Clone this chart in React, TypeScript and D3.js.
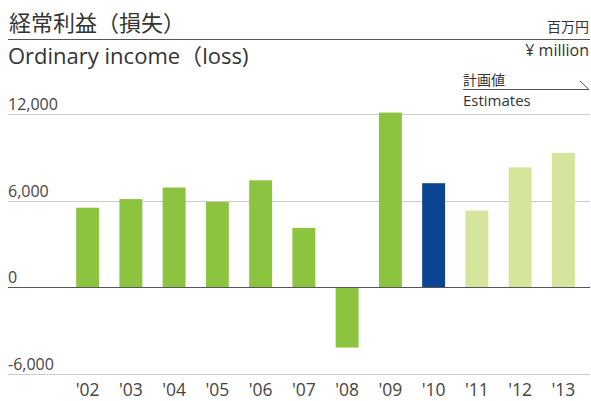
import React from "react";
import * as d3 from "d3";

const years = ["'02", "'03", "'04", "'05", "'06", "'07", "'08", "'09", "'10", "'11", "'12", "'13"];
const values = [5500, 6100, 6900, 5900, 7400, 4100, -4200, 12100, 7200, 5300, 8300, 9300];
const kinds = ["actual", "actual", "actual", "actual", "actual", "actual", "actual", "actual", "current", "estimate", "estimate", "estimate"];
const yTicks = [-6000, 0, 6000, 12000];

const colors: Record<string, string> = {
  actual: "#8cc43f",
  current: "#0b4591",
  estimate: "#d5e59b",
};

const W = 591;
const H = 401;
const FONT = "'Open Sans', 'Noto Sans CJK JP', sans-serif";
const JFONT = "'Noto Sans CJK JP', 'Open Sans', sans-serif";

export default function App() {
  const x = d3.scaleBand<string>().domain(years).range([66, 585]).paddingInner(0.47).paddingOuter(0.235);
  const y = d3.scaleLinear().domain([-6000, 12000]).range([373.5, 114]);
  const base = d3.format(",");
  const fmt = (v: number) => base(v).replace("−", "-");
  return (
    <svg width={W} height={H} style={{ position: "absolute", left: 0, top: 0, background: "#fff" }}>
      {/* titles */}
      <text x={9} y={31} fontFamily={JFONT} fontSize={22} fill="#333">経常利益（損失）</text>
      <line x1={8} x2={590} y1={39.5} y2={39.5} stroke="#555" strokeWidth={1} />
      <text x={8} y={64} fontFamily={FONT} fontSize={22} fill="#333">Ordinary income<tspan fontFamily={JFONT}>（</tspan>loss)</text>
      <text x={589} y={32} textAnchor="end" fontFamily={JFONT} fontSize={14} fill="#333">百万円</text>
      <text x={589} y={56} textAnchor="end" fontFamily={FONT} fontSize={16} fill="#333">¥ million</text>
      <text x={463} y={85} fontFamily={JFONT} fontSize={14} fill="#333">計画値</text>
      <polyline points="463,89.5 589,89.5 580,81" fill="none" stroke="#555" strokeWidth={1} />
      <text x={463} y={106} fontFamily={FONT} fontSize={15} fill="#333">Estimates</text>

      {/* gridlines */}
      {yTicks.filter((t) => t !== 0).map((t) => (
        <line key={t} x1={8} x2={590} y1={Math.round(y(t)) + 0.5} y2={Math.round(y(t)) + 0.5} stroke="#ccc" strokeWidth={1} />
      ))}
      {yTicks.map((t) => (
        <text key={"l" + t} x={8} y={y(t) - 4} fontFamily={FONT} fontSize={16} fill="#444">{fmt(t)}</text>
      ))}

      {/* bars */}
      {values.map((v, i) => (
        <rect
          key={years[i]}
          x={x(years[i])}
          width={x.bandwidth()}
          y={Math.min(y(v), y(0))}
          height={Math.abs(y(v) - y(0))}
          fill={colors[kinds[i]]}
        />
      ))}
      <line x1={8} x2={590} y1={Math.round(y(0)) + 0.5} y2={Math.round(y(0)) + 0.5} stroke="#555" strokeWidth={1} />

      {/* x labels */}
      {years.map((yr) => (
        <text key={"x" + yr} x={(x(yr) as number) + x.bandwidth() / 2} y={396} textAnchor="middle" fontFamily={FONT} fontSize={17.5} fill="#444">{yr}</text>
      ))}
    </svg>
  );
}
